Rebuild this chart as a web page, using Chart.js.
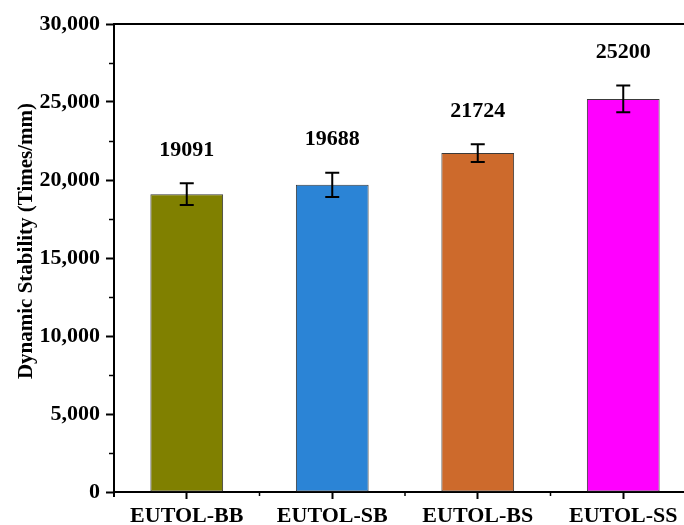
<!DOCTYPE html>
<html>
<head>
<meta charset="utf-8">
<script src="https://cdn.jsdelivr.net/npm/chart.js@4/dist/chart.umd.min.js"></script>
<style>
  html, body { margin: 0; padding: 0; background: #fff; overflow: hidden; }
  #wrap { width: 720px; height: 525px; }
</style>
</head>
<body>
<div id="wrap"><canvas id="c" width="720" height="525"></canvas></div>
<script>
// data
var categories = ['EUTOL-BB', 'EUTOL-SB', 'EUTOL-BS', 'EUTOL-SS'];
var stability = [19091, 19688, 21724, 25200];
var errors = [700, 780, 570, 860];
var barColors = ['#808000', '#2b84d6', '#cd6a2c', '#ff00ff'];
var yTicks = [0, 5000, 10000, 15000, 20000, 25000, 30000];
var yTitle = 'Dynamic Stability (Times/mm)';

var FONT = '"Liberation Serif", "Times New Roman", serif';

// error bars, value labels, minor ticks, axis title and the top frame line
var extras = {
    id: 'extras',
    afterDatasetsDraw: function (chart) {
        var ctx = chart.ctx, y = chart.scales.y, x = chart.scales.x;
        var area = chart.chartArea;
        var meta = chart.getDatasetMeta(0);
        ctx.save();
        ctx.strokeStyle = '#000';
        ctx.lineWidth = 2;
        meta.data.forEach(function (bar, i) {
            var top = y.getPixelForValue(stability[i] + errors[i]);
            var bot = y.getPixelForValue(stability[i] - errors[i]);
            ctx.beginPath();
            ctx.moveTo(bar.x, top); ctx.lineTo(bar.x, bot);
            ctx.moveTo(bar.x - 7, top); ctx.lineTo(bar.x + 7, top);
            ctx.moveTo(bar.x - 7, bot); ctx.lineTo(bar.x + 7, bot);
            ctx.stroke();
            // value label
            ctx.fillStyle = '#000';
            ctx.font = 'bold 22px ' + FONT;
            ctx.textAlign = 'center';
            ctx.textBaseline = 'middle';
            ctx.fillText(String(stability[i]), bar.x, top - 33);
        });
        // top frame
        ctx.beginPath();
        ctx.moveTo(area.left - 1, area.top);
        ctx.lineTo(area.right + 1, area.top);
        ctx.stroke();
        // y axis continues a little below the x axis
        ctx.beginPath();
        ctx.moveTo(area.left, area.bottom); ctx.lineTo(area.left, area.bottom + 5);
        ctx.stroke();
        // minor y ticks
        ctx.lineWidth = 1.5;
        for (var v = 2500; v < 30000; v += 5000) {
            var py = Math.round(y.getPixelForValue(v)) + 0.5;
            ctx.beginPath();
            ctx.moveTo(area.left - 5, py); ctx.lineTo(area.left, py);
            ctx.stroke();
        }
        // x ticks at category boundaries
        var step = x.getPixelForValue(1) - x.getPixelForValue(0);
        for (var k = 1; k <= categories.length; k++) {
            var px = x.getPixelForValue(0) - step / 2 + k * step;
            ctx.beginPath();
            ctx.moveTo(px, area.bottom); ctx.lineTo(px, area.bottom + 4);
            ctx.stroke();
        }
        // y axis title
        ctx.translate(area.left - 87, area.top + 217);
        ctx.rotate(-Math.PI / 2);
        ctx.fillStyle = '#000';
        ctx.font = 'bold 21px ' + FONT;
        ctx.textAlign = 'center';
        ctx.textBaseline = 'middle';
        ctx.fillText(yTitle, 0, 0);
        ctx.restore();
    }
};

new Chart(document.getElementById('c'), {
    type: 'bar',
    data: {
        labels: categories,
        datasets: [{
            data: stability,
            backgroundColor: barColors,
            borderColor: '#3a3a3a',
            borderWidth: 1,
            borderSkipped: false,
            barPercentage: 0.5,
            categoryPercentage: 1.0
        }]
    },
    options: {
        responsive: false,
        animation: false,
        devicePixelRatio: 1,
        layout: { padding: { top: 24, right: 24, left: 0, bottom: 0 } },
        plugins: { legend: { display: false }, tooltip: { enabled: false } },
        scales: {
            x: {
                grid: { offset: false, drawOnChartArea: false, drawTicks: true, tickLength: 7, tickColor: '#000', tickWidth: 2 },
                border: { color: '#000', width: 2 },
                ticks: { color: '#000', font: { family: FONT, size: 22, weight: 'bold' }, padding: 4, maxRotation: 0 },
                afterFit: function (s) { s.height = 33; }
            },
            y: {
                min: 0, max: 30000,
                afterBuildTicks: function (s) { s.ticks = yTicks.map(function (v) { return { value: v }; }); },
                grid: { drawOnChartArea: false, drawTicks: true, tickLength: 8, tickColor: '#000', tickWidth: 2 },
                border: { color: '#000', width: 2 },
                ticks: {
                    color: '#000', padding: 6,
                    font: { family: FONT, size: 22, weight: 'bold' },
                    callback: function (v) { return v.toLocaleString('en-US'); }
                },
                afterFit: function (s) { s.width = 114; }
            }
        }
    },
    plugins: [extras]
});
</script>
</body>
</html>
